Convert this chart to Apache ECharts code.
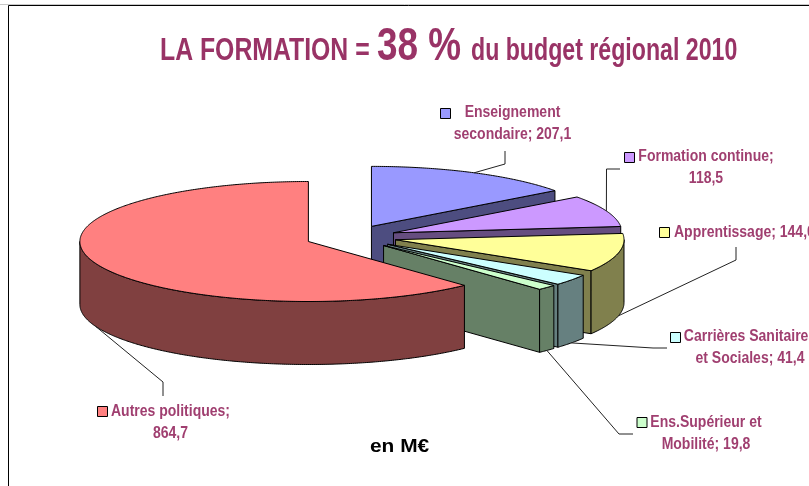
<!DOCTYPE html>
<html>
<head>
<meta charset="utf-8">
<style>html,body{margin:0;padding:0;background:#fff}#c{width:809px;height:486px}</style>
<script src="https://cdn.jsdelivr.net/npm/echarts@6/dist/echarts.min.js"></script>
</head>
<body>
<div id="c"></div>
<script>
// Data, clockwise from 12 o'clock, back-to-front drawing order
const categories = ['Enseignement secondaire', 'Formation continue', 'Apprentissage', 'Carrières Sanitaires et Sociales', 'Ens.Supérieur et Mobilité', 'Autres politiques'];
const budgetValues = [207.1, 118.5, 144.0, 41.4, 19.8, 864.7];
const labelTexts = ['Enseignement\nsecondaire; 207,1', 'Formation continue;\n118,5', 'Apprentissage; 144,0', 'Carrières Sanitaires\net Sociales; 41,4', 'Ens.Supérieur et\nMobilité; 19,8', 'Autres politiques;\n864,7'];
const titleParts = ['LA FORMATION =', '38 %', 'du budget régional 2010'];
const unitText = 'en M€';

// Styles
const topColors = ['#9999FF', '#CC99FF', '#FFFF99', '#CCFFFF', '#CCFFCC', '#FF8080'];
const sideColors = ['#4D4D80', '#664D80', '#80804D', '#668080', '#668066', '#804040'];
const TEXT = '#993366';
const LABEL_TEXT = '#A03F70';
const FONT = '"Liberation Sans",sans-serif';

// Layout of the tilted pie (projection parameters)
const CX = 350.9, CY = 237.1, RX = 228.5, RY = 60, DEPTH = 63, EXPLODE = 0.2;
const labelLayout = [
  {x: 512.5, y: 124, align: 'center', mark: [440, 108], leader: [[505, 164], [505, 151]]},
  {x: 706, y: 168, align: 'center', mark: [624, 152], leader: [[606.5, 169], [620, 169]]},
  {x: 674, y: 233, align: 'left', mark: [659, 227], leader: [[736, 260], [736, 247]]},
  {x: 750, y: 348, align: 'center', mark: [670, 332], leader: [[653, 348], [667, 348]]},
  {x: 706, y: 434, align: 'center', mark: [636.5, 417], leader: [[619, 434], [633, 434]]},
  {x: 170.5, y: 423, align: 'center', mark: [97, 406], leader: [[163, 382], [163, 396]]}
];

const total = budgetValues.reduce((a, b) => a + b, 0);
const rad = d => d * Math.PI / 180;

function renderSlice(params, api) {
  const i = params.dataIndex;
  const before = budgetValues.slice(0, i).reduce((a, b) => a + b, 0);
  const a1 = before / total * 360;
  const a2 = (before + api.value(0)) / total * 360;
  const mid = (a1 + a2) / 2;
  const ax = CX + EXPLODE * RX * Math.sin(rad(mid));
  const ay = CY - EXPLODE * RY * Math.cos(rad(mid));
  const pt = d => [ax + RX * Math.sin(rad(d)), ay - RY * Math.cos(rad(d))];
  const down = p => [p[0], p[1] + DEPTH];
  const arc = (from, to) => {
    const out = [];
    const n = Math.max(1, Math.ceil((to - from) * 2));
    for (let k = 0; k <= n; k++) out.push(pt(from + (to - from) * k / n));
    return out;
  };
  const poly = (points, fill) => ({
    type: 'polygon', shape: {points},
    style: {fill, stroke: '#000', lineWidth: 1, lineJoin: 'round'}
  });
  const children = [];
  const apex = [ax, ay];
  const quad = d => {
    const p = pt(d);
    return poly([apex, p, down(p), down(apex)], sideColors[i]);
  };
  // only faces turned to the viewer
  if (Math.sin(rad(a1)) < -1e-6) children.push(quad(a1));
  if (Math.sin(rad(a2)) > 1e-6) children.push(quad(a2));
  const r1 = Math.max(a1, 90), r2 = Math.min(a2, 270);
  if (r2 > r1) {
    const top = arc(r1, r2);
    children.push(poly(top.concat(top.slice().reverse().map(down)), sideColors[i]));
  }
  children.push(poly([apex].concat(arc(a1, a2)), topColors[i]));

  // leader line anchored on the slice rim
  const L = labelLayout[i];
  const anchor = Math.cos(rad(mid)) < 0 ? down(pt(mid)) : pt(mid);
  children.push({
    type: 'polyline', shape: {points: [anchor].concat(L.leader)},
    style: {fill: null, stroke: '#222', lineWidth: 1}, z2: 5
  });
  return {type: 'group', children};
}

function renderLabel(params, api) {
  const i = params.dataIndex;
  const L = labelLayout[i];
  return {type: 'group', children: [
    {type: 'rect', shape: {x: L.mark[0] + .5, y: L.mark[1] + .5, width: 10, height: 10},
     style: {fill: topColors[i], stroke: '#000', lineWidth: 1}},
    {type: 'text', x: L.x, y: L.y, scaleX: 0.875,
     style: {text: labelTexts[i], fill: LABEL_TEXT, font: 'bold 16px ' + FONT, align: L.align, verticalAlign: 'middle', lineHeight: 22}}
  ]};
}

const titleText = (text, x, y, size, sx, color) => ({
  type: 'text', silent: true, x, y, scaleX: sx,
  style: {text, fill: color, font: 'bold ' + size + 'px ' + FONT, align: 'left', verticalAlign: 'middle'}
});

const chart = echarts.init(document.getElementById('c'), null, {renderer: 'canvas'});
const sliceData = budgetValues.map((v, i) => ({name: categories[i], value: [v]}));
chart.setOption({
  animation: false,
  backgroundColor: '#fff',
  tooltip: {show: false},
  graphic: [
    {type: 'polyline', silent: true, shape: {points: [[8.5, 486], [8.5, 5.5], [809, 5.5]]}, style: {fill: null, stroke: '#000', lineWidth: 1}},
    {type: 'line', silent: true, shape: {x1: 0, y1: 4.5, x2: 809, y2: 4.5}, style: {stroke: '#c8c8c8', lineWidth: 1}},
    titleText(titleParts[0], 160, 51, 31, 0.8, TEXT),
    titleText(titleParts[1], 377, 47, 47, 0.785, TEXT),
    titleText(titleParts[2], 471, 51, 31, 0.747, TEXT),
    titleText(unitText, 370, 447, 19, 1.1, '#000')
  ],
  series: [
    {type: 'custom', coordinateSystem: 'none', renderItem: renderSlice, data: sliceData, silent: true, z: 2},
    {type: 'custom', coordinateSystem: 'none', renderItem: renderLabel, data: sliceData, silent: true, z: 3}
  ]
});
</script>
</body>
</html>
